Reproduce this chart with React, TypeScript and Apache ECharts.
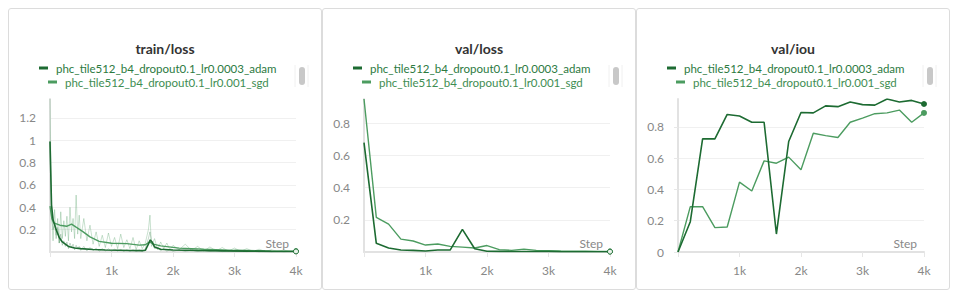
import React, { useEffect, useRef } from 'react';
import * as echarts from 'echarts';

const ADAM = 'phc_tile512_b4_dropout0.1_lr0.0003_adam';
const SGD = 'phc_tile512_b4_dropout0.1_lr0.001_sgd';
const ADAM_COLOR = '#1d6b32';
const SGD_COLOR = '#4c9c60';
const FONT = 'Lato, "Open Sans", sans-serif';

// validation steps
const valSteps = [0, 200, 400, 600, 800, 1000, 1200, 1400, 1600, 1800, 2000, 2200, 2400, 2600, 2800, 3000, 3200, 3400, 3600, 3800, 4000];
const valLossAdam = [0.679, 0.054, 0.025, 0.012, 0.01, 0.006, 0.012, 0.012, 0.14, 0.02, 0.005, 0.004, 0.003, 0.003, 0.003, 0.003, 0.002, 0.002, 0.002, 0.002, 0.002];
const valLossSgd = [0.949, 0.215, 0.173, 0.08, 0.068, 0.043, 0.05, 0.035, 0.03, 0.025, 0.04, 0.015, 0.01, 0.018, 0.01, 0.008, 0.006, 0.005, 0.005, 0.004, 0.004];
const valIouAdam = [0, 0.194, 0.724, 0.724, 0.88, 0.87, 0.83, 0.83, 0.115, 0.707, 0.893, 0.89, 0.935, 0.93, 0.96, 0.943, 0.94, 0.979, 0.96, 0.97, 0.947];
const valIouSgd = [0, 0.29, 0.29, 0.156, 0.16, 0.447, 0.39, 0.583, 0.568, 0.607, 0.526, 0.76, 0.745, 0.733, 0.83, 0.857, 0.885, 0.89, 0.908, 0.83, 0.89];

// train raw steps
const rawSteps = [0, 25, 50, 75, 100, 125, 150, 175, 200, 225, 250, 275, 300, 325, 350, 375, 400, 425, 450, 475, 500, 550, 600, 650, 700, 750, 800, 850, 900, 950, 1000, 1050, 1100, 1150, 1200, 1250, 1300, 1350, 1400, 1450, 1500, 1550, 1600, 1625, 1650, 1700, 1750, 1800, 1850, 1900, 1950, 2000, 2100, 2200, 2300, 2400, 2500, 2600, 2700, 2800, 2900, 3000, 3100, 3200, 3300, 3400, 3500, 3600, 3700, 3800, 3900, 4000];
const trainRawSgd = [1.37, 0.34, 0.1, 0.38, 0.15, 0.3, 0.08, 0.36, 0.12, 0.28, 0.14, 0.32, 0.1, 0.4, 0.18, 0.3, 0.12, 0.51, 0.16, 0.33, 0.12, 0.3, 0.1, 0.24, 0.07, 0.18, 0.05, 0.15, 0.04, 0.17, 0.05, 0.13, 0.03, 0.16, 0.04, 0.11, 0.03, 0.13, 0.02, 0.1, 0.03, 0.08, 0.2, 0.33, 0.05, 0.12, 0.02, 0.09, 0.03, 0.08, 0.02, 0.06, 0.02, 0.07, 0.015, 0.05, 0.01, 0.045, 0.01, 0.04, 0.008, 0.035, 0.006, 0.03, 0.006, 0.025, 0.005, 0.02, 0.004, 0.018, 0.004, 0.006];
const trainRawAdam = [0.99, 0.32, 0.2, 0.26, 0.12, 0.22, 0.08, 0.16, 0.06, 0.1, 0.05, 0.09, 0.03, 0.08, 0.04, 0.07, 0.02, 0.06, 0.03, 0.05, 0.015, 0.05, 0.01, 0.04, 0.012, 0.035, 0.008, 0.03, 0.01, 0.028, 0.006, 0.025, 0.008, 0.022, 0.006, 0.02, 0.005, 0.02, 0.005, 0.018, 0.006, 0.03, 0.12, 0.18, 0.1, 0.03, 0.04, 0.01, 0.03, 0.008, 0.022, 0.006, 0.02, 0.005, 0.018, 0.004, 0.015, 0.004, 0.014, 0.003, 0.012, 0.003, 0.01, 0.003, 0.01, 0.002, 0.009, 0.002, 0.008, 0.002, 0.006, 0.004];

// train smoothed
const smoothAdamSteps = [0, 25, 50, 100, 150, 200, 300, 400, 500, 700, 900, 1100, 1300, 1500, 1550, 1600, 1630, 1660, 1700, 1800, 2000, 2400, 2800, 3200, 3600, 4000];
const smoothAdam = [0.99, 0.42, 0.29, 0.2, 0.13, 0.09, 0.05, 0.036, 0.03, 0.022, 0.018, 0.016, 0.013, 0.012, 0.015, 0.07, 0.108, 0.09, 0.045, 0.025, 0.018, 0.013, 0.01, 0.008, 0.006, 0.005];
const smoothSgdSteps = [0, 30, 60, 160, 270, 350, 430, 540, 650, 800, 1000, 1250, 1450, 1550, 1620, 1680, 1800, 2100, 2500, 3000, 3500, 4000];
const smoothSgd = [0.41, 0.3, 0.26, 0.24, 0.23, 0.25, 0.22, 0.18, 0.135, 0.095, 0.078, 0.075, 0.062, 0.065, 0.09, 0.07, 0.055, 0.035, 0.025, 0.015, 0.01, 0.008];

const xTicks = [1000, 2000, 3000, 4000];

function pairs(xs: number[], ys: number[], endSymbol?: any) {
  return xs.map((x, i) => {
    if (endSymbol && i === xs.length - 1) {
      return { value: [x, ys[i]], symbol: 'circle', symbolSize: endSymbol.size, itemStyle: endSymbol.itemStyle };
    }
    return [x, ys[i]];
  });
}

function fmtY(v: number) {
  return String(Math.round(v * 10) / 10);
}

function legendItem(name: string, color: string, textColor: string, top: number, left: number) {
  return {
    data: [{ name, icon: 'rect', itemStyle: { color } }],
    top,
    left,
    padding: 0,
    itemWidth: 9,
    itemHeight: 3,
    selectedMode: false,
    textStyle: { color: textColor, fontSize: 11.5, fontFamily: FONT, padding: [0, 0, 0, 3] },
  };
}

function baseOption(title: string, series: any[], showZero: boolean, yTicks: boolean) {
  return {
    animation: false,
    textStyle: { fontFamily: FONT },
    title: {
      text: title,
      left: 'center',
      top: 32,
      padding: 0,
      textStyle: { fontSize: 14, fontWeight: 'bold', color: '#333', fontFamily: FONT },
    },
    legend: [
      legendItem(ADAM, ADAM_COLOR, '#2c7a3f', 53, 30),
      legendItem(SGD, SGD_COLOR, '#3e8d52', 67, 39),
    ],
    grid: { left: 41, right: 25, top: 90, bottom: 37 },
    xAxis: {
      type: 'value',
      min: 0,
      max: 4000,
      interval: 1000,
      name: 'Step',
      nameLocation: 'end',
      nameGap: -7,
      nameTextStyle: { align: 'right', verticalAlign: 'bottom', padding: [0, 0, 3, 0], color: '#888', fontSize: 12, fontFamily: FONT },
      axisLine: { lineStyle: { color: '#e2e2e2', width: 2 } },
      axisTick: { show: true, length: 5, lineStyle: { color: '#e6e6e6' } },
      axisLabel: {
        color: '#888',
        fontSize: 12,
        margin: 12,
        fontFamily: FONT,
        formatter: (v: number) => (xTicks.indexOf(v) >= 0 ? v / 1000 + 'k' : ''),
      },
      splitLine: { show: false },
    },
    yAxis: {
      type: 'value',
      min: 0,
      max: 'dataMax',
      interval: 0.2,
      axisLine: { show: true, lineStyle: { color: '#e2e2e2', width: 2 } },
      axisTick: { show: yTicks, length: 4, lineStyle: { color: '#e8e8e8' } },
      axisLabel: {
        color: '#888',
        fontSize: 12,
        margin: 14,
        fontFamily: FONT,
        showMaxLabel: false,
        formatter: (v: number) => {
          const r = Math.round(v * 10) / 10;
          if (Math.abs(r - v) > 1e-6) return '';
          if (r === 0 && !showZero) return '';
          return fmtY(v);
        },
      },
      splitLine: { show: true, showMaxLine: false, showMinLine: false, lineStyle: { color: '#f0f0f0' } },
    },
    graphic: [
      { type: 'line', shape: { x1: 286, y1: 56, x2: 286, y2: 78 }, style: { stroke: '#f0f0f0', lineWidth: 1 } },
      { type: 'line', shape: { x1: 299, y1: 56, x2: 299, y2: 78 }, style: { stroke: '#f0f0f0', lineWidth: 1 } },
      { type: 'rect', shape: { x: 290, y: 58, width: 6, height: 18, r: 3 }, style: { fill: '#c8c8c8' } },
    ],
    series,
  };
}

const hollowEnd = (c: string) => ({ size: 5, itemStyle: { color: '#e8f3ea', borderColor: c, borderWidth: 1 } });
const filledEnd = (c: string) => ({ size: 6, itemStyle: { color: c } });

function lineSeries(name: string, data: any[], color: string, width: number, z: number, opacity = 1) {
  return {
    type: 'line',
    name,
    data,
    symbol: 'none',
    showSymbol: true,
    z,
    color,
    lineStyle: { color, width, opacity },
    emphasis: { disabled: true },
  };
}

const trainOption = baseOption(
  'train/loss',
  [
    lineSeries(ADAM, pairs(smoothAdamSteps, smoothAdam, hollowEnd(ADAM_COLOR)), ADAM_COLOR, 1.6, 5),
    lineSeries(SGD, pairs(smoothSgdSteps, smoothSgd, hollowEnd(SGD_COLOR)), SGD_COLOR, 1.4, 4),
    lineSeries(SGD, pairs(rawSteps, trainRawSgd), SGD_COLOR, 1, 2, 0.3),
    lineSeries(ADAM, pairs(rawSteps, trainRawAdam), ADAM_COLOR, 1, 3, 0.25),
  ],
  false,
  false
);

const valLossOption = baseOption(
  'val/loss',
  [
    lineSeries(ADAM, pairs(valSteps, valLossAdam, hollowEnd(ADAM_COLOR)), ADAM_COLOR, 1.6, 3),
    lineSeries(SGD, pairs(valSteps, valLossSgd, hollowEnd(SGD_COLOR)), SGD_COLOR, 1.4, 2),
  ],
  false,
  false
);

const valIouOption = baseOption(
  'val/iou',
  [
    lineSeries(ADAM, pairs(valSteps, valIouAdam, filledEnd(ADAM_COLOR)), ADAM_COLOR, 1.6, 3),
    lineSeries(SGD, pairs(valSteps, valIouSgd, filledEnd(SGD_COLOR)), SGD_COLOR, 1.4, 2),
  ],
  true,
  true
);

function Panel({ option }: { option: any }) {
  const ref = useRef<HTMLDivElement>(null);
  useEffect(() => {
    if (!ref.current) return;
    const chart = echarts.init(ref.current, undefined, { renderer: 'svg' });
    chart.setOption(option);
    return () => chart.dispose();
  }, [option]);
  return (
    <div
      style={{
        width: 314,
        height: 282,
        border: '1px solid #dcdcdc',
        borderRadius: 3,
        boxSizing: 'border-box',
        background: '#fff',
        flex: 'none',
      }}
    >
      <div ref={ref} style={{ width: 312, height: 280 }} />
    </div>
  );
}

export default function App() {
  return (
    <div style={{ display: 'flex', width: 945 }}>
      <Panel option={trainOption} />
      <Panel option={valLossOption} />
      <Panel option={valIouOption} />
    </div>
  );
}
